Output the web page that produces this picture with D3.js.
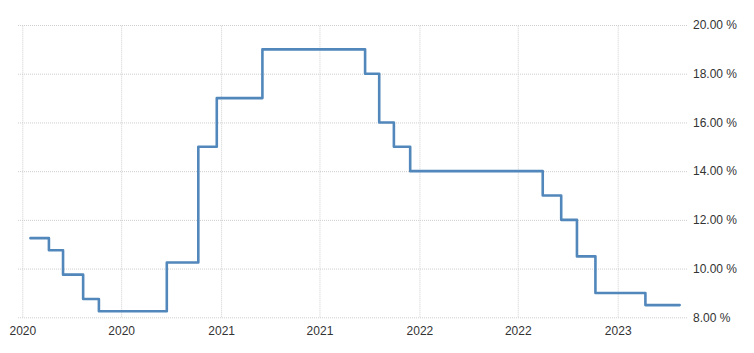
<!DOCTYPE html>
<html>
<head>
<meta charset="utf-8">
<script src="https://cdn.jsdelivr.net/npm/d3@7"></script>
<style>
  html, body { margin: 0; padding: 0; background: #fff; }
  svg { display: block; }
  .tick text { font-family: "Liberation Sans", Arial, sans-serif; font-size: 12px; fill: #333; }
</style>
</head>
<body>
<svg id="chart" width="754" height="353"></svg>
<script>
// Step change dates (rate takes effect at each date) and the rate values
const changeDates = [
  "2020-01-16", "2020-02-19", "2020-03-16", "2020-04-22", "2020-05-21",
  "2020-09-23", "2020-11-20", "2020-12-24", "2021-03-18", "2021-09-23",
  "2021-10-19", "2021-11-15", "2021-12-15", "2022-08-16", "2022-09-19",
  "2022-10-18", "2022-11-21", "2023-02-21"
];
const rateValues = [
  11.25, 10.75, 9.75, 8.75, 8.25,
  10.25, 15.0, 17.0, 19.0, 18.0,
  16.0, 15.0, 14.0, 13.0, 12.0,
  10.5, 9.0, 8.5
];
const lastDate = "2023-04-25";
const yTickValues = [8, 10, 12, 14, 16, 18, 20];
const xTickDates = ["2020-01-01", "2020-07-01", "2021-01-01", "2021-07-01", "2022-01-01", "2022-07-01", "2023-01-01"];

const parse = d3.timeParse("%Y-%m-%d");
const data = changeDates.map((d, i) => ({ date: parse(d), value: rateValues[i] }));
// hold the last value to the end date
data.push({ date: parse(lastDate), value: rateValues[rateValues.length - 1] });

const svg = d3.select("#chart");

const x = d3.scaleTime()
  .domain([parse("2020-01-01"), parse("2023-01-01")])
  .range([22.3, 617.7]);
const y = d3.scaleLinear().domain([8, 20]).range([317.3, 25]);

const gridLeft = 17, gridRight = 687;

// horizontal gridlines + right axis labels
const yAxis = d3.axisRight(y)
  .tickValues(yTickValues)
  .tickFormat(d => d3.format(".2f")(d) + " %")
  .tickSize(-(gridRight - gridLeft))
  .tickPadding(6);
const gy = svg.append("g")
  .attr("transform", `translate(${gridRight},0)`)
  .call(yAxis);
gy.select(".domain").remove();
gy.selectAll(".tick line")
  .attr("stroke", "#cfcfcf")
  .attr("stroke-dasharray", "1,1");

// vertical gridlines + bottom labels
const xAxis = d3.axisBottom(x)
  .tickValues(xTickDates.map(parse))
  .tickFormat(d3.timeFormat("%Y"))
  .tickSize(-(y(8) - y(20)))
  .tickPadding(6);
const gx = svg.append("g")
  .attr("transform", `translate(0,${y(8)})`)
  .call(xAxis);
gx.select(".domain").remove();
gx.selectAll(".tick line")
  .attr("stroke", "#cfcfcf")
  .attr("stroke-dasharray", "1,1");
gx.selectAll(".tick text").attr("dy", "0.95em");

// step line
const line = d3.line()
  .x(d => x(d.date))
  .y(d => y(d.value))
  .curve(d3.curveStepAfter);

svg.append("path")
  .datum(data)
  .attr("fill", "none")
  .attr("stroke", "#5187bb")
  .attr("stroke-width", 2.6)
  .attr("stroke-linejoin", "round")
  .attr("stroke-linecap", "round")
  .attr("d", line);
</script>
</body>
</html>
